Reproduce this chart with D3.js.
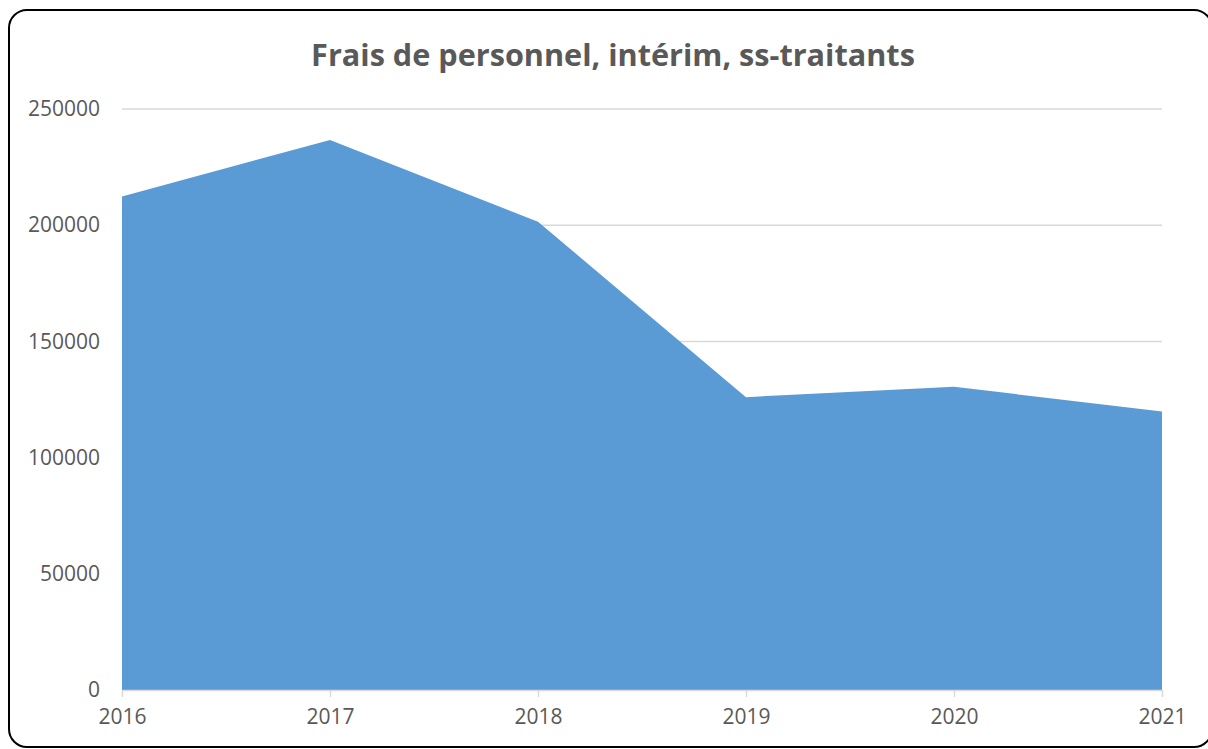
<!DOCTYPE html>
<html>
<head>
<meta charset="utf-8">
<script src="https://cdn.jsdelivr.net/npm/d3@7"></script>
<style>
  body { margin: 0; background: #fff; overflow: hidden; }
  svg { display: block; font-family: "Open Sans", sans-serif; }
</style>
</head>
<body>
<svg id="chart"></svg>
<script>
// Data
const years = ['2016', '2017', '2018', '2019', '2020', '2021'];
const values = [212400, 236700, 201500, 126000, 130500, 119800];
const yTicks = [0, 50000, 100000, 150000, 200000, 250000];
const title = 'Frais de personnel, intérim, ss-traitants';

const width = 1208, height = 749;
const margin = {top: 109, right: 46, bottom: 59, left: 122};
const innerW = width - margin.left - margin.right;
const innerH = height - margin.top - margin.bottom;

const svg = d3.select('#chart')
    .attr('width', width)
    .attr('height', height);

// Rounded frame (right edge runs just past the picture)
svg.append('rect')
    .attr('x', 9)
    .attr('y', 10)
    .attr('width', 1203)
    .attr('height', 737)
    .attr('rx', 18)
    .attr('fill', '#fff')
    .attr('stroke', '#000')
    .attr('stroke-width', 2);

const chart = svg.append('g')
    .attr('transform', `translate(${margin.left},${margin.top})`);

const xScale = d3.scalePoint()
    .domain(years)
    .range([0, innerW]);

const yScale = d3.scaleLinear()
    .domain([0, 250000])
    .range([innerH, 0]);

// Gridlines
chart.append('g')
  .selectAll('line')
  .data(yTicks.filter(d => d > 0))
  .join('line')
    .attr('x1', 0)
    .attr('x2', innerW)
    .attr('y1', d => yScale(d))
    .attr('y2', d => yScale(d))
    .attr('stroke', '#d9d9d9')
    .attr('stroke-width', 1.5);

// Area
const area = d3.area()
    .x((d, i) => xScale(years[i]))
    .y0(yScale(0))
    .y1(d => yScale(d));

chart.append('path')
    .datum(values)
    .attr('fill', '#5b9bd5')
    .attr('d', area);

// Y axis
const yAxis = d3.axisLeft(yScale)
    .tickValues(yTicks)
    .tickSize(0)
    .tickPadding(22)
    .tickFormat(d3.format('d'));

const yAxisG = chart.append('g').call(yAxis);
yAxisG.select('.domain').remove();
yAxisG.selectAll('text')
    .attr('fill', '#595959')
    .style('font-size', '21px')
    .style('font-family', '"Open Sans", sans-serif');

// X axis
const xAxis = d3.axisBottom(xScale)
    .tickSize(7)
    .tickSizeOuter(0)
    .tickPadding(12);

const xAxisG = chart.append('g')
    .attr('transform', `translate(0,${innerH})`)
    .call(xAxis);
xAxisG.select('.domain')
    .attr('stroke', '#d9d9d9')
    .attr('stroke-width', 1.5);
xAxisG.selectAll('.tick line')
    .attr('stroke', '#d9d9d9')
    .attr('stroke-width', 1.5);
xAxisG.selectAll('text')
    .attr('fill', '#595959')
    .style('font-size', '21px')
    .style('font-family', '"Open Sans", sans-serif');

// Title
const titleText = svg.append('text')
    .attr('x', 613)
    .attr('y', 66)
    .attr('text-anchor', 'middle')
    .attr('fill', '#595959')
    .style('font-size', '29px')
    .style('font-weight', 'bold')
    .text(title);

// fit title to the width seen in the picture
const tw = titleText.node().getComputedTextLength();
titleText.style('font-size', (29 * 604 / tw) + 'px');
</script>
</body>
</html>
